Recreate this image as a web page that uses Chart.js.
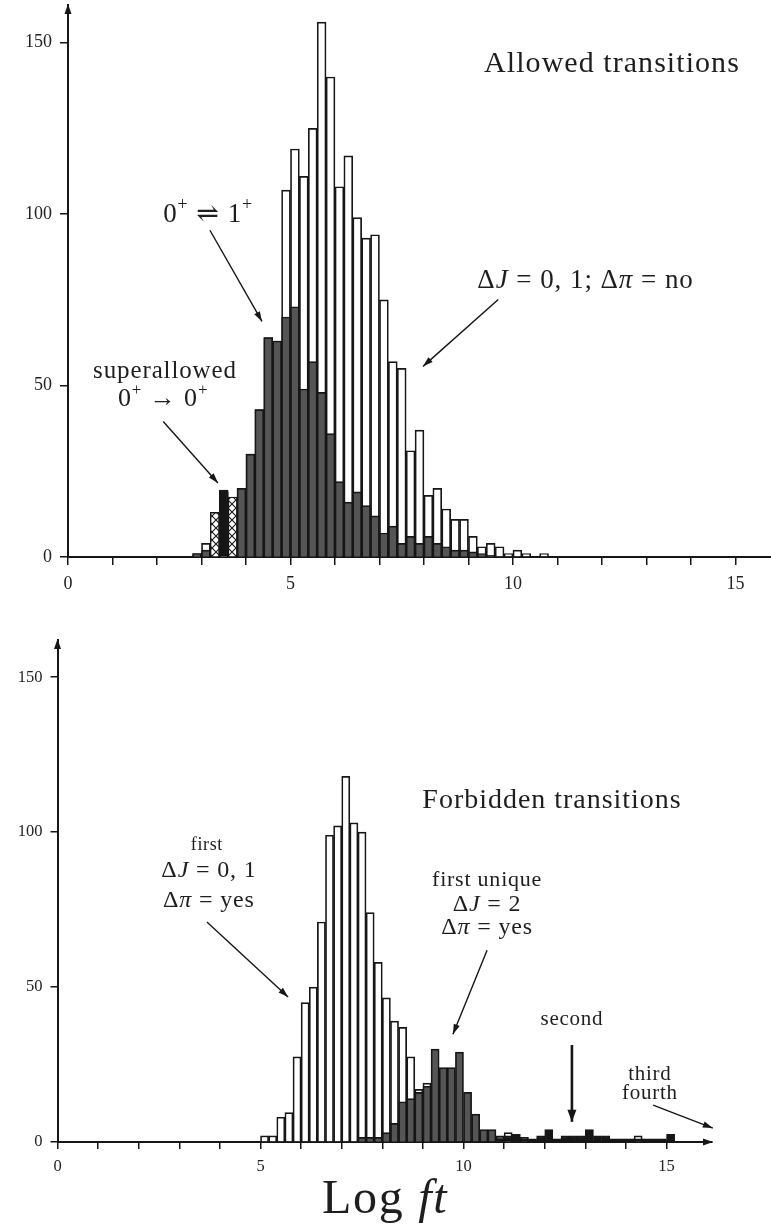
<!DOCTYPE html>
<html lang="en">
<head>
<meta charset="UTF-8">
<title>Log ft distributions</title>
<script src="https://cdn.jsdelivr.net/npm/chart.js"></script>
<style>
  body { margin: 0; background: #fff; }
  #wrap { position: relative; width: 771px; height: 1231px; overflow: hidden; }
  .panel { position: absolute; left: 0; width: 771px; }
  #top { top: 0; height: 600px; }
  #bottom { top: 610px; height: 621px; }
</style>
</head>
<body>
<div id="wrap">
  <div class="panel" id="top"><canvas id="allowedChart"></canvas></div>
  <div class="panel" id="bottom"><canvas id="forbiddenChart"></canvas></div>
</div>
<script>
// ---- data: counts per log ft bin (bin width 0.2, value = lower edge) ----
const BIN = 0.2;

const allowedBins = [2.8, 3.0, 3.2, 3.4, 3.6, 3.8, 4.0, 4.2, 4.4, 4.6,
                     4.8, 5.0, 5.2, 5.4, 5.6, 5.8, 6.0, 6.2, 6.4, 6.6,
                     6.8, 7.0, 7.2, 7.4, 7.6, 7.8, 8.0, 8.2, 8.4, 8.6,
                     8.8, 9.0, 9.2, 9.4, 9.6, 9.8, 10.0, 10.2, 10.4, 10.6];
// all allowed transitions (dJ = 0,1; no parity change)
const allowedAll = [1, 4, 13, 19, 17, 20, 30, 43, 64, 63,
                    107, 119, 111, 125, 156, 140, 108, 117, 99, 93,
                    94, 75, 57, 55, 31, 37, 18, 20, 14, 11,
                    11, 6, 3, 4, 3, 1, 2, 1, 0, 1];
// 0+ <-> 1+ subset
const allowed01 = [1, 2, 0, 0, 0, 20, 30, 43, 64, 63,
                   70, 73, 49, 57, 48, 36, 22, 16, 19, 15,
                   12, 7, 9, 4, 6, 4, 6, 4, 3, 2,
                   2, 1.5, 1, 0.5, 0, 0, 0, 0, 0, 0];
// superallowed 0+ -> 0+ region
const superBins = [3.2, 3.4, 3.6];
const superHatched = [13, 19, 17.5];
const superBlack = [0, 19.5, 0];

const forbiddenBins = [5.0, 5.2, 5.4, 5.6, 5.8, 6.0, 6.2, 6.4, 6.6, 6.8,
                       7.0, 7.2, 7.4, 7.6, 7.8, 8.0, 8.2, 8.4, 8.6, 8.8,
                       9.0, 9.2, 9.4, 9.6, 9.8, 10.0, 10.2, 10.4, 10.6, 10.8,
                       11.0, 11.2, 11.4, 11.6, 11.8, 12.0, 12.2, 12.4, 12.6, 12.8,
                       13.0, 13.2, 13.4, 13.6, 13.8, 14.0, 14.2, 14.4, 14.6, 14.8,
                       15.0];
// first forbidden, dJ = 0,1
const firstForbidden = [2, 2, 8, 9.5, 27.5, 45, 50, 71, 99, 102,
                        118, 103, 100, 74, 58, 46.5, 39, 37, 27.5, 17,
                        19, 0, 0, 0, 0, 0, 0, 0, 0, 0,
                        3, 0, 1.5, 0, 0, 0, 0, 0, 0, 0,
                        0, 0, 0, 0, 0, 0, 2, 0, 0, 0,
                        0];
// first unique forbidden, dJ = 2
const firstUnique = [0, 0, 0, 0, 0, 0, 0, 0, 0, 0,
                     0, 0, 1.5, 1.5, 1.5, 3, 6, 13, 14, 16,
                     18, 30, 24, 24, 29, 16, 9, 4, 4, 2,
                     1, 1, 0, 0, 0, 0, 0, 0, 0, 0,
                     0, 0, 0, 0, 0, 0, 0, 0, 0, 0,
                     0];
// second, third, fourth forbidden
const higherForbidden = [0, 0, 0, 0, 0, 0, 0, 0, 0, 0,
                         0, 0, 0, 0, 0, 0, 0, 0, 0, 0,
                         0, 0, 0, 0, 0, 0, 0, 0, 0, 1,
                         2, 2.5, 1, 1, 2, 4, 1, 2, 2, 2,
                         4, 2, 2, 1, 1, 1, 1, 1, 1, 1,
                         2.5];

const yTicks = [0, 50, 100, 150];
const xLabelled = [0, 5, 10, 15];

// ---- drawing helpers ----
const INK = '#161616';
const GREY = '#555555';
const FONT = "'Liberation Serif', 'DejaVu Serif', serif";

function toPoints(bins, values) {
  return bins.map((b, i) => ({ x: b + BIN / 2, y: values[i] ? values[i] : null }));
}

function crossHatch(ctx) {
  const c = document.createElement('canvas');
  c.width = 8; c.height = 8;
  const g = c.getContext('2d');
  g.fillStyle = '#fff';
  g.fillRect(0, 0, 8, 8);
  g.strokeStyle = INK;
  g.lineWidth = 1.1;
  g.beginPath();
  g.moveTo(0, 0); g.lineTo(8, 8);
  g.moveTo(8, 0); g.lineTo(0, 8);
  g.stroke();
  return ctx.createPattern(c, 'repeat');
}

function head(ctx, x1, y1, x2, y2, len, half) {
  const a = Math.atan2(y2 - y1, x2 - x1);
  ctx.beginPath();
  ctx.moveTo(x2, y2);
  ctx.lineTo(x2 - len * Math.cos(a) + half * Math.sin(a), y2 - len * Math.sin(a) - half * Math.cos(a));
  ctx.lineTo(x2 - len * Math.cos(a) - half * Math.sin(a), y2 - len * Math.sin(a) + half * Math.cos(a));
  ctx.closePath();
  ctx.fill();
}

// text made of upright / italic / superscript pieces; slight tracking to get closer to the TeX look
function drawRich(ctx, parts, x, y, size, align) {
  const fontFor = s => (s === 'i' ? 'italic ' : '') + (s === 'sup' ? Math.round(size * 0.66) : size) + 'px ' + FONT;
  const track = size * 0.035;
  const widthOf = t => ctx.measureText(t).width + track * t.length;
  let w = 0;
  parts.forEach(([t, s]) => { ctx.font = fontFor(s); w += widthOf(t); });
  let cx = align === 'left' ? x : align === 'right' ? x - w : x - w / 2;
  ctx.textAlign = 'left';
  ctx.textBaseline = 'middle';
  parts.forEach(([t, s]) => {
    ctx.font = fontFor(s);
    for (const ch of t) {
      ctx.fillText(ch, cx, s === 'sup' ? y - size * 0.36 : y);
      cx += ctx.measureText(ch).width + track;
    }
  });
}

// labels, arrows and axis arrowheads, placed in data coordinates
const overlay = {
  id: 'overlay',
  afterDraw(chart, args, o) {
    const { ctx, chartArea: a, scales: { x, y } } = chart;
    ctx.save();
    ctx.fillStyle = INK;
    ctx.strokeStyle = INK;
    head(ctx, a.left, a.top + 10, a.left, a.top - 1, 10, 3.5);
    if (o.xArrow) head(ctx, a.right - 10, a.bottom, a.right + 1, a.bottom, 10, 3.5);
    (o.arrows || []).forEach(ar => {
      const x1 = x.getPixelForValue(ar.from[0]), y1 = y.getPixelForValue(ar.from[1]);
      const x2 = x.getPixelForValue(ar.to[0]), y2 = y.getPixelForValue(ar.to[1]);
      ctx.lineWidth = ar.width || 1.4;
      ctx.beginPath();
      ctx.moveTo(x1, y1);
      ctx.lineTo(x2, y2);
      ctx.stroke();
      head(ctx, x1, y1, x2, y2, ar.len || 10, ar.half || 3.2);
    });
    ctx.fillStyle = '#1e1e1e';
    (o.labels || []).forEach(l => {
      drawRich(ctx, l.parts, x.getPixelForValue(l.at[0]), y.getPixelForValue(l.at[1]), l.size, l.align || 'center');
    });
    ctx.restore();
  }
};

function barSet(data, fill, order, width) {
  return {
    data, backgroundColor: fill, borderColor: INK, borderWidth: width || 1.7,
    borderSkipped: 'start', barPercentage: 1, categoryPercentage: 1, grouped: false, order
  };
}

function makeChart(id, cfg) {
  const ctx = document.getElementById(id).getContext('2d');
  return new Chart(ctx, {
    type: 'bar',
    data: { datasets: cfg.datasets(ctx) },
    options: {
      responsive: true,
      maintainAspectRatio: false,
      animation: false,
      layout: { padding: cfg.padding },
      plugins: { legend: { display: false }, tooltip: { enabled: false }, overlay: cfg.overlay },
      scales: {
        x: {
          type: 'linear', min: 0, max: cfg.xMax, offset: false,
          afterBuildTicks: s => { s.ticks = [...Array(16).keys()].map(v => ({ value: v })); },
          afterFit: s => { s.height = cfg.xHeight; s.paddingLeft = 0; s.paddingRight = 0; },
          grid: { offset: false, drawOnChartArea: false, tickLength: cfg.tick, color: INK, lineWidth: 1.5 },
          border: { color: INK, width: 2 },
          ticks: {
            autoSkip: false, maxRotation: 0, padding: cfg.xPad, color: '#222',
            font: { family: FONT, size: cfg.fontSize },
            callback: v => xLabelled.includes(v) ? String(v) : ''
          }
        },
        y: {
          min: 0, max: cfg.yMax,
          afterBuildTicks: s => { s.ticks = yTicks.map(v => ({ value: v })); },
          afterFit: s => { s.width = cfg.yWidth; s.paddingTop = 0; s.paddingBottom = 0; },
          grid: { drawOnChartArea: false, tickLength: cfg.tick, color: INK, lineWidth: 1.5 },
          border: { color: INK, width: 2 },
          ticks: { padding: 8, color: '#222', font: { family: FONT, size: cfg.fontSize } }
        }
      }
    },
    plugins: [overlay]
  });
}

makeChart('allowedChart', {
  padding: { top: 5, right: 0, left: 0, bottom: 0 },
  xMax: 15.8, yMax: 161, xHeight: 43, yWidth: 68, tick: 8, xPad: 8, fontSize: 18,
  datasets: ctx => [
    barSet(toPoints(superBins, superBlack), INK, 1),
    barSet(toPoints(superBins, superHatched), crossHatch(ctx), 2, 1.3),
    barSet(toPoints(allowedBins, allowed01), GREY, 3),
    barSet(toPoints(allowedBins, allowedAll), '#ffffff', 4)
  ],
  overlay: {
    xArrow: false,
    labels: [
      { parts: [['Allowed transitions', '']], at: [15.1, 143.9], size: 30, align: 'right' },
      { parts: [['0', ''], ['+', 'sup'], [' \u21CC 1', ''], ['+', 'sup']], at: [3.15, 99.7], size: 27 },
      { parts: [['superallowed', '']], at: [2.18, 54.1], size: 25 },
      { parts: [['0', ''], ['+', 'sup'], [' \u2192 0', ''], ['+', 'sup']], at: [2.14, 45.9], size: 26 },
      { parts: [['\u0394', ''], ['J', 'i'], [' = 0, 1; \u0394', ''], ['\u03C0', 'i'], [' = no', '']], at: [9.2, 80.4], size: 27, align: 'left' }
    ],
    arrows: [
      { from: [3.19, 95.3], to: [4.36, 68.7] },
      { from: [2.14, 39.5], to: [3.37, 21.6] },
      { from: [9.67, 75.1], to: [7.98, 55.6] }
    ]
  }
});

makeChart('forbiddenChart', {
  padding: { top: 30, right: 59, left: 0, bottom: 0 },
  xMax: 16.12, yMax: 162, xHeight: 89, yWidth: 57.5, tick: 7, xPad: 8, fontSize: 16.5,
  datasets: () => [
    barSet(toPoints(forbiddenBins, higherForbidden), INK, 1),
    barSet(toPoints(forbiddenBins, firstUnique), GREY, 2),
    barSet(toPoints(forbiddenBins, firstForbidden), '#ffffff', 3)
  ],
  overlay: {
    xArrow: true,
    labels: [
      { parts: [['Forbidden transitions', '']], at: [12.18, 110], size: 28 },
      { parts: [['first', '']], at: [3.68, 95.8], size: 18 },
      { parts: [['\u0394', ''], ['J', 'i'], [' = 0, 1', '']], at: [3.73, 87.4], size: 24 },
      { parts: [['\u0394', ''], ['\u03C0', 'i'], [' = yes', '']], at: [3.73, 78], size: 24 },
      { parts: [['first unique', '']], at: [10.58, 84.5], size: 22 },
      { parts: [['\u0394', ''], ['J', 'i'], [' = 2', '']], at: [10.58, 76.5], size: 24 },
      { parts: [['\u0394', ''], ['\u03C0', 'i'], [' = yes', '']], at: [10.58, 69], size: 24 },
      { parts: [['second', '']], at: [12.67, 39.4], size: 21 },
      { parts: [['third', '']], at: [14.59, 21.9], size: 21 },
      { parts: [['fourth', '']], at: [14.59, 15.8], size: 21 },
      { parts: [['Log ', ''], ['ft', 'i']], at: [8.07, -18.7], size: 48 }
    ],
    arrows: [
      { from: [3.68, 71], to: [5.68, 46.8] },
      { from: [10.58, 61.9], to: [9.74, 34.8] },
      { from: [12.67, 31.3], to: [12.67, 6.5], width: 2.6, len: 12, half: 4.5 },
      { from: [14.67, 11.9], to: [16.14, 4.5] }
    ]
  }
});
</script>
</body>
</html>
